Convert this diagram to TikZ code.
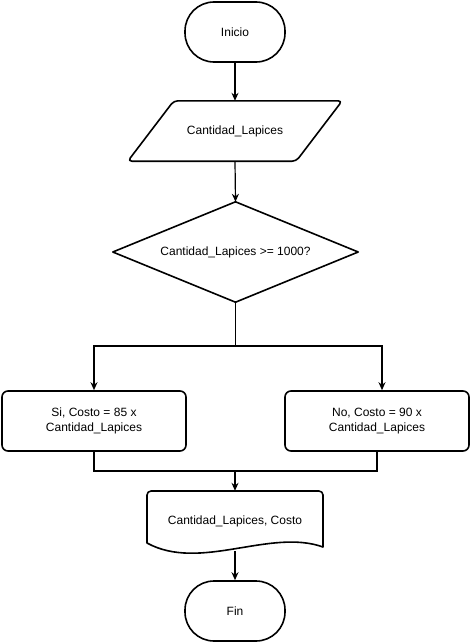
\documentclass[tikz,border=0pt]{standalone}
\usepackage{fontspec}
\setmainfont{Liberation Sans}
\usetikzlibrary{arrows.meta}
\begin{document}
\begin{tikzpicture}[x=1pt,y=-1pt,
  every node/.style={font=\fontsize{12}{15}\selectfont, align=center, inner sep=0pt},
  shapeline/.style={draw=black, line width=1.6pt, line join=round},
  conn/.style={draw=black, line width=1.2pt},
  arr/.style={conn, -{Stealth[length=8pt,width=7pt]}},
  boxnode/.style={shapeline, rounded corners=6pt, minimum width=184pt, minimum height=60pt},
  terminal/.style={shapeline, rounded corners=29pt, minimum width=100pt, minimum height=60pt},
  textarea/.style={minimum width=#1, minimum height=60pt}
]
\useasboundingbox (0,0) rectangle (470,642);

% Inicio
\node[terminal] (inicio) at (235,32) {Inicio};

% Input parallelogram
\node[textarea=214pt] (par) at (235,131) {Cantidad\_Lapices};
\draw[shapeline, rounded corners=4pt] (par.south west) -- ([xshift=46pt]par.north west)
  -- (par.north east) -- ([xshift=-46pt]par.south east) -- cycle;

% Decision
\node[minimum width=245pt, minimum height=100pt] (dec) at (235.5,252) {Cantidad\_Lapices >= 1000?};
\draw[shapeline] (dec.north) -- (dec.east) -- (dec.south) -- (dec.west) -- cycle;

% Branch boxes
\node[boxnode] (si) at (94,421) {Si, Costo = 85 x\\Cantidad\_Lapices};
\node[boxnode] (no) at (377,421) {No, Costo = 90 x\\Cantidad\_Lapices};

% Output document
\node[textarea=176pt] (doc) at (235,521) {Cantidad\_Lapices, Costo};
\draw[shapeline] (147,543) [rounded corners=4pt]-- (147,491) -- (323,491) [sharp corners]-- (323,547)
  .. controls (270,528) and (200,572) .. (147,543) -- cycle;

% Fin
\node[terminal] (fin) at (235,611) {Fin};

% Connectors
\coordinate (split) at (235.5,346);
\coordinate (merge) at (235,471);
\draw[arr] (inicio.south) -- (par.north);
\draw[arr] (par.south) -- (dec.north);
\draw[conn] (dec.south) -- (split);
\draw[arr] (split) -| (si.north);
\draw[arr] (split) -| ([xshift=5pt]no.north);
\draw[conn] (si.south) |- (merge);
\draw[conn] (no.south) |- (merge);
\draw[arr] (merge) -- (doc.north);
\draw[arr] (doc.south) -- (fin.north);
\end{tikzpicture}
\end{document}
